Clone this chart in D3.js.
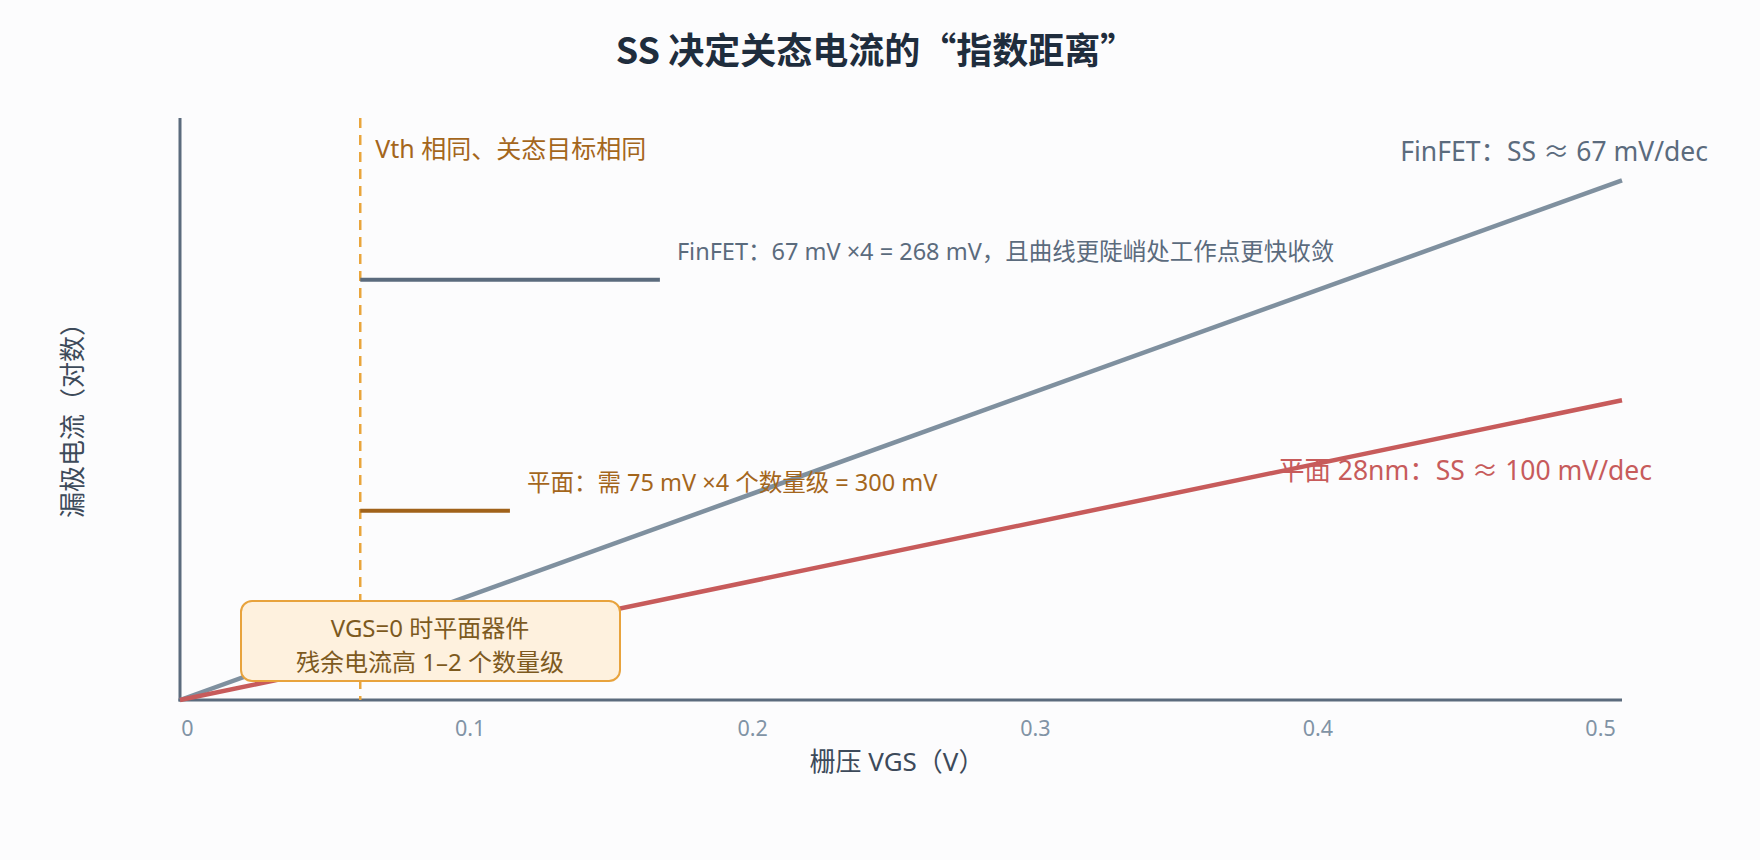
<!DOCTYPE html>
<html>
<head>
<meta charset="utf-8">
<script src="https://cdn.jsdelivr.net/npm/d3@7"></script>
<style>
  html, body { margin: 0; padding: 0; background: #fcfcfd; }
  svg { display: block; font-family: "Noto Sans", "Noto Sans CJK SC", sans-serif; }
</style>
</head>
<body>
<div id="chart"></div>
<script>
var width = 1760,
    height = 860;

// gate voltage (V) and leakage in decades (log scale, arbitrary origin)
var vgs = [0, 0.5],
    finfetLeak = [0, 8.93],
    planarLeak = [0, 5.15],
    xTicks = [0, 0.1, 0.2, 0.3, 0.4, 0.5],
    vth = 0.0625;

// horizontal "distance" markers starting at Vth
var markerNames = ["finfet", "planar"],
    markerLevel = [7.22, 3.25],
    markerEnd = [0.1664, 0.1144],
    markerText = ["FinFET：67 mV ×4 = 268 mV，且曲线更陡峭处工作点更快收敛",
                  "平面：需 75 mV ×4 个数量级 = 300 mV"];

var seriesLabels = ["FinFET：SS ≈ 67 mV/dec", "平面 28nm：SS ≈ 100 mV/dec"],
    noteLines = ["VGS=0 时平面器件", "残余电流高 1–2 个数量级"];

var x = d3.scaleLinear().domain([0, 0.5]).range([180, 1622]),
    xLabel = d3.scaleLinear().domain([0, 0.5]).range([187, 1600]),
    y = d3.scaleLinear().domain([0, 10]).range([700, 118]);

var svg = d3.select("#chart").append("svg")
    .attr("width", width)
    .attr("height", height);

svg.append("rect")
    .attr("width", width)
    .attr("height", height)
    .attr("fill", "#fcfcfd");

svg.append("text")
    .attr("x", 876)
    .attr("y", 64)
    .attr("text-anchor", "middle")
    .attr("font-family", "\"Noto Sans CJK SC\", sans-serif")
    .attr("font-size", 36)
    .attr("font-weight", "bold")
    .attr("fill", "#1f2d3d")
    .text("SS 决定关态电流的“指数距离”");

// axes
svg.append("line")
    .attr("x1", x(0)).attr("x2", x(0))
    .attr("y1", y(0) + 1.5).attr("y2", y(10))
    .attr("stroke", "#5b6b7d")
    .attr("stroke-width", 3);

svg.append("line")
    .attr("x1", x(0) - 1.5).attr("x2", x(0.5))
    .attr("y1", y(0)).attr("y2", y(0))
    .attr("stroke", "#5b6b7d")
    .attr("stroke-width", 3);

var xAxis = svg.append("g")
    .attr("transform", "translate(0," + y(0) + ")")
    .call(d3.axisBottom(xLabel).tickValues(xTicks).tickSize(0).tickPadding(21)
      .tickFormat(function(d) { return d === 0 ? "0" : d3.format(".1f")(d); }));
xAxis.select(".domain").remove();
xAxis.selectAll("text")
    .attr("font-size", 21.5)
    .attr("font-family", "\"Noto Sans\", \"Noto Sans CJK SC\", sans-serif")
    .attr("fill", "#8193a5");

svg.append("text")
    .attr("x", 897)
    .attr("y", 771)
    .attr("text-anchor", "middle")
    .attr("font-size", 26)
    .attr("fill", "#3d4a5a")
    .text("栅压 VGS（V）");

svg.append("text")
    .attr("transform", "translate(82," + 414 + ") rotate(-90)")
    .attr("text-anchor", "middle")
    .attr("font-size", 26)
    .attr("fill", "#3d4a5a")
    .text("漏极电流（对数）");

// Vth
svg.append("line")
    .attr("x1", x(vth)).attr("x2", x(vth))
    .attr("y1", y(10)).attr("y2", y(0))
    .attr("stroke", "#e9a53c")
    .attr("stroke-width", 2.5)
    .attr("stroke-dasharray", "10,7");

svg.append("text")
    .attr("x", x(vth) + 15)
    .attr("y", 158)
    .attr("font-size", 25)
    .attr("fill", "#a4661c")
    .text("Vth 相同、关态目标相同");

// subthreshold lines
var line = d3.line()
    .x(function(d) { return x(d[0]); })
    .y(function(d) { return y(d[1]); });

svg.append("path")
    .datum(d3.zip(vgs, finfetLeak))
    .attr("d", line)
    .attr("fill", "none")
    .attr("stroke", "#7f909f")
    .attr("stroke-width", 4.5);

svg.append("path")
    .datum(d3.zip(vgs, planarLeak))
    .attr("d", line)
    .attr("fill", "none")
    .attr("stroke", "#c75b5b")
    .attr("stroke-width", 4.5);

svg.append("text")
    .attr("x", x(0.5) + 86)
    .attr("y", 161)
    .attr("text-anchor", "end")
    .attr("font-size", 26.5)
    .attr("fill", "#5b6b7d")
    .text(seriesLabels[0]);

svg.append("text")
    .attr("x", x(0.5) + 30)
    .attr("y", 480)
    .attr("text-anchor", "end")
    .attr("font-size", 26.5)
    .attr("fill", "#c75b5b")
    .text(seriesLabels[1]);

// markers
var markerColor = {finfet: "#5b6b7d", planar: "#a0621a"},
    textColor = {finfet: "#5b6b7d", planar: "#a4661c"};

markerNames.forEach(function(name, i) {
  svg.append("line")
      .attr("x1", x(vth)).attr("x2", x(markerEnd[i]))
      .attr("y1", y(markerLevel[i])).attr("y2", y(markerLevel[i]))
      .attr("stroke", markerColor[name])
      .attr("stroke-width", 4);
  svg.append("text")
      .attr("x", x(markerEnd[i]) + 17)
      .attr("y", y(markerLevel[i]) - 20)
      .attr("font-size", 23.5)
      .attr("fill", textColor[name])
      .text(markerText[i]);
});

// note box
var note = svg.append("g");
note.append("rect")
    .attr("x", 241)
    .attr("y", 601)
    .attr("width", 379)
    .attr("height", 80)
    .attr("rx", 11)
    .attr("fill", "#fef1de")
    .attr("stroke", "#e8a33d")
    .attr("stroke-width", 2);
note.selectAll("text")
    .data(noteLines)
  .enter().append("text")
    .attr("x", 430)
    .attr("y", function(d, i) { return 637 + i * 34; })
    .attr("text-anchor", "middle")
    .attr("font-size", 24)
    .attr("fill", "#7d5a1e")
    .text(function(d) { return d; });
</script>
</body>
</html>
